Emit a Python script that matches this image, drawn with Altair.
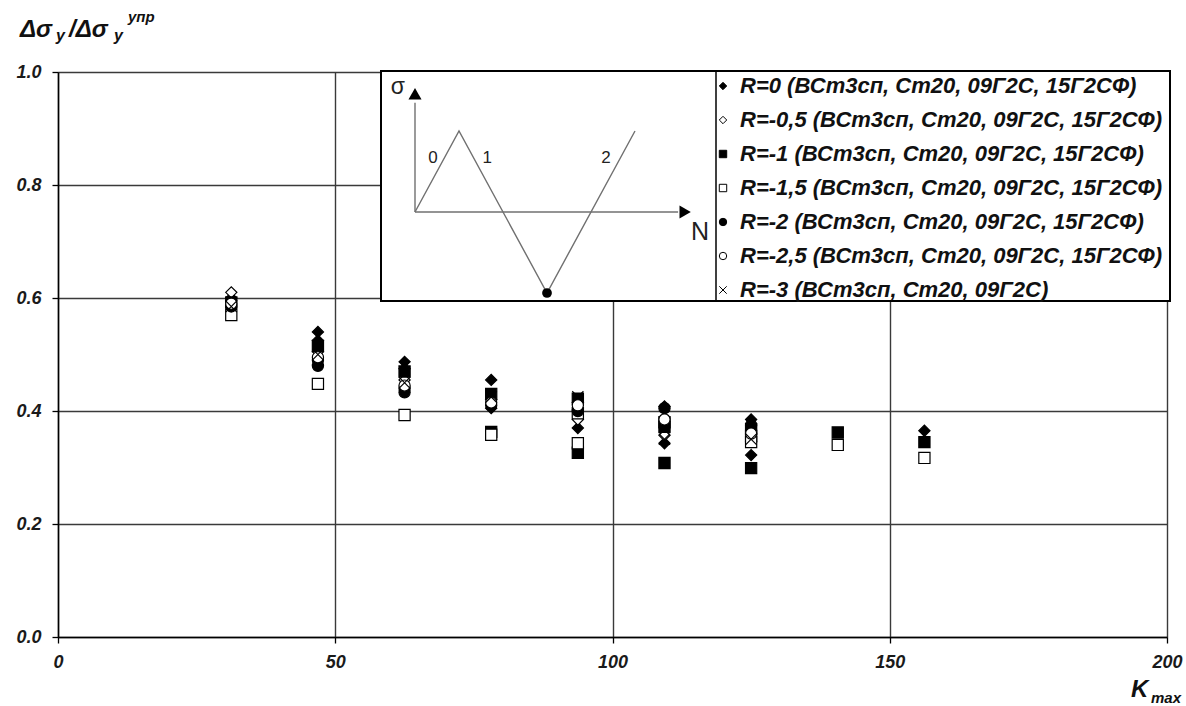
import altair as alt
import pandas as pd

FONT = "Liberation Sans"

LABELS = [
    "R=0 (ВСт3сп, Ст20, 09Г2С, 15Г2СФ)",
    "R=-0,5 (ВСт3сп, Ст20, 09Г2С, 15Г2СФ)",
    "R=-1 (ВСт3сп, Ст20, 09Г2С, 15Г2СФ)",
    "R=-1,5 (ВСт3сп, Ст20, 09Г2С, 15Г2СФ)",
    "R=-2 (ВСт3сп, Ст20, 09Г2С, 15Г2СФ)",
    "R=-2,5 (ВСт3сп, Ст20, 09Г2С, 15Г2СФ)",
    "R=-3 (ВСт3сп, Ст20, 09Г2С)",
]

# K_max values and ratio values per series
r0_k = [31.25, 31.25, 46.875, 46.875, 62.5, 62.5, 78.125, 78.125, 93.75, 93.75, 109.375, 109.375, 125, 125, 156.25]
r0_v = [0.600, 0.595, 0.540, 0.525, 0.487, 0.475, 0.455, 0.405, 0.415, 0.370, 0.408, 0.343, 0.385, 0.322, 0.365]

r05_k = [31.25, 46.875, 62.5, 78.125, 93.75, 109.375, 125]
r05_v = [0.610, 0.505, 0.455, 0.420, 0.385, 0.357, 0.345]

r1_k = [31.25, 46.875, 62.5, 78.125, 78.125, 93.75, 93.75, 109.375, 109.375, 109.375, 125, 125, 125, 140.625, 156.25]
r1_v = [0.592, 0.515, 0.470, 0.430, 0.363, 0.422, 0.326, 0.380, 0.372, 0.308, 0.368, 0.356, 0.299, 0.362, 0.345]

r15_k = [31.25, 46.875, 62.5, 78.125, 93.75, 93.75, 125, 140.625, 156.25]
r15_v = [0.570, 0.448, 0.393, 0.358, 0.396, 0.343, 0.345, 0.340, 0.317]

r2_k = [31.25, 46.875, 46.875, 62.5, 62.5, 78.125, 93.75, 109.375, 125]
r2_v = [0.585, 0.490, 0.480, 0.440, 0.433, 0.410, 0.400, 0.405, 0.375]

r25_k = [31.25, 46.875, 62.5, 78.125, 93.75, 109.375, 125]
r25_v = [0.590, 0.495, 0.445, 0.415, 0.410, 0.385, 0.360]

r3_k = [31.25, 46.875, 62.5, 78.125, 93.75, 109.375, 125]
r3_v = [0.585, 0.500, 0.450, 0.425, 0.425, 0.350, 0.350]

X_TICKS = [0, 50, 100, 150, 200]
Y_TICKS = [0.0, 0.2, 0.4, 0.6, 0.8, 1.0]

# inset schematic (sigma vs N)
saw_n = [0, 1, 3, 5]
saw_s = [0, 1, -1, 1]

# marker styles
SHAPES = ["diamond", "diamond", "square", "square", "circle", "circle",
          "M-1,-1L1,1M-1,1L1,-1"]
FILLS = ["black", "white", "black", "white", "black", "white", "white"]
STROKES = ["black"] * 7

series_k = [r0_k, r05_k, r1_k, r15_k, r2_k, r25_k, r3_k]
series_v = [r0_v, r05_v, r1_v, r15_v, r2_v, r25_v, r3_v]
rows = []
for lab, ks, vs in zip(LABELS, series_k, series_v):
    for k, v in zip(ks, vs):
        rows.append({"K": k, "ratio": v, "series": lab})
df = pd.DataFrame(rows)

legend = alt.Legend(
    orient="none", legendX=654, legendY=3, title=None,
    labelFont=FONT, labelFontSize=22, labelFontWeight="bold", labelFontStyle="italic",
    labelColor="#111111", symbolSize=55, symbolStrokeColor="black", symbolStrokeWidth=1,
    rowPadding=12, labelOffset=6, padding=0, labelLimit=700,
)

axis_common = dict(
    labelFont=FONT, labelFontSize=18, labelFontWeight="bold", labelFontStyle="italic",
    labelColor="#1a1a1a", grid=True, gridColor="#3a3a3a", gridWidth=1.4,
    domainColor="black", domainWidth=1.5, tickColor="black", tickSize=6, tickWidth=1.3,
    title=None,
)

points = alt.Chart(df).mark_point(filled=True, opacity=1, strokeWidth=1.2, size=125).encode(
    x=alt.X("K:Q", scale=alt.Scale(domain=[0, 200], nice=False),
            axis=alt.Axis(values=X_TICKS, labelPadding=10, labelFlush=False, **axis_common)),
    y=alt.Y("ratio:Q", scale=alt.Scale(domain=[0, 1], nice=False),
            axis=alt.Axis(values=Y_TICKS, format=".1f", labelPadding=11, **axis_common)),
    shape=alt.Shape("series:N", scale=alt.Scale(domain=LABELS, range=SHAPES), legend=legend),
    fill=alt.Fill("series:N", scale=alt.Scale(domain=LABELS, range=FILLS), legend=legend),
    stroke=alt.Stroke("series:N", scale=alt.Scale(domain=LABELS, range=STROKES), legend=legend),
)

one = alt.Data(values=[{}])

box = alt.Chart(one).mark_rect(fill="white", stroke="black", strokeWidth=2).encode(
    x=alt.value(323), x2=alt.value(1112), y=alt.value(-1), y2=alt.value(229))
divider = alt.Chart(one).mark_rule(color="black", strokeWidth=1.5).encode(
    x=alt.value(658), y=alt.value(-1), y2=alt.value(229))

xs = alt.Scale(domain=[0, 5], range=[357, 577], nice=False, zero=False)
ys = alt.Scale(domain=[-1, 1], range=[221, 59], nice=False, zero=False)

saw_df = pd.DataFrame({"N": saw_n, "s": saw_s})
saw = alt.Chart(saw_df).mark_line(color="#707070", strokeWidth=1.4).encode(
    x=alt.X("N:Q", scale=xs, axis=None), y=alt.Y("s:Q", scale=ys, axis=None))

axes_df = pd.DataFrame({"N": [0, 0], "N2": [0, 5.98], "s": [0, 0], "s2": [1.35, 0]})
ax_lines = alt.Chart(axes_df).mark_rule(color="#707070", strokeWidth=1.4).encode(
    x=alt.X("N:Q", scale=xs, axis=None), x2="N2:Q",
    y=alt.Y("s:Q", scale=ys, axis=None), y2="s2:Q")

arrow_up = alt.Chart(pd.DataFrame({"N": [0], "s": [1.46]})).mark_point(
    shape="triangle-up", filled=True, color="black", opacity=1, size=170).encode(
    x=alt.X("N:Q", scale=xs, axis=None), y=alt.Y("s:Q", scale=ys, axis=None))
arrow_right = alt.Chart(pd.DataFrame({"N": [6.14], "s": [0]})).mark_point(
    shape="triangle-right", filled=True, color="black", opacity=1, size=170).encode(
    x=alt.X("N:Q", scale=xs, axis=None), y=alt.Y("s:Q", scale=ys, axis=None))
dot = alt.Chart(pd.DataFrame({"N": [3], "s": [-1]})).mark_point(
    shape="circle", filled=True, color="black", opacity=1, size=95).encode(
    x=alt.X("N:Q", scale=xs, axis=None), y=alt.Y("s:Q", scale=ys, axis=None))

inset_lab_df = pd.DataFrame({
    "N": [-0.39, 0.41, 1.64, 4.34, 6.48],
    "s": [1.54, 0.67, 0.67, 0.67, -0.25],
    "t": ["σ", "0", "1", "2", "N"],
    "fs": [23, 17, 17, 17, 25],
})
inset_labels = alt.Chart(inset_lab_df).mark_text(font=FONT, color="#222222", baseline="middle", align="center").encode(
    x=alt.X("N:Q", scale=xs, axis=None), y=alt.Y("s:Q", scale=ys, axis=None),
    text="t:N", size=alt.Size("fs:Q", scale=None, legend=None))


def label(txt, x, y, size, italic=True):
    return alt.Chart(one).mark_text(
        text=txt, align="left", baseline="alphabetic", font=FONT, fontSize=size,
        fontWeight="bold", fontStyle="italic" if italic else "normal", color="#111111",
    ).encode(x=alt.value(x), y=alt.value(y))


title_parts = [
    label("Δσ", -38, -35, 24),
    label("y", -2, -31, 16),
    label("/Δσ", 11, -35, 24),
    label("y", 56, -31, 16),
    label("упр", 70, -50, 15),
    label("K", 1073, 625, 24),
    label("max", 1093, 631, 15),
]

chart = alt.layer(
    points, box, divider, ax_lines, saw, arrow_up, arrow_right, dot, inset_labels, *title_parts
).resolve_scale(x="independent", y="independent").properties(
    width=1109, height=565,
    autosize=alt.AutoSizeParams(type="none"),
    padding={"left": 58, "top": 72, "right": 19, "bottom": 69},
).configure_view(strokeWidth=0)

chart.save("out.html", embed_options={"renderer": "svg", "actions": False})
